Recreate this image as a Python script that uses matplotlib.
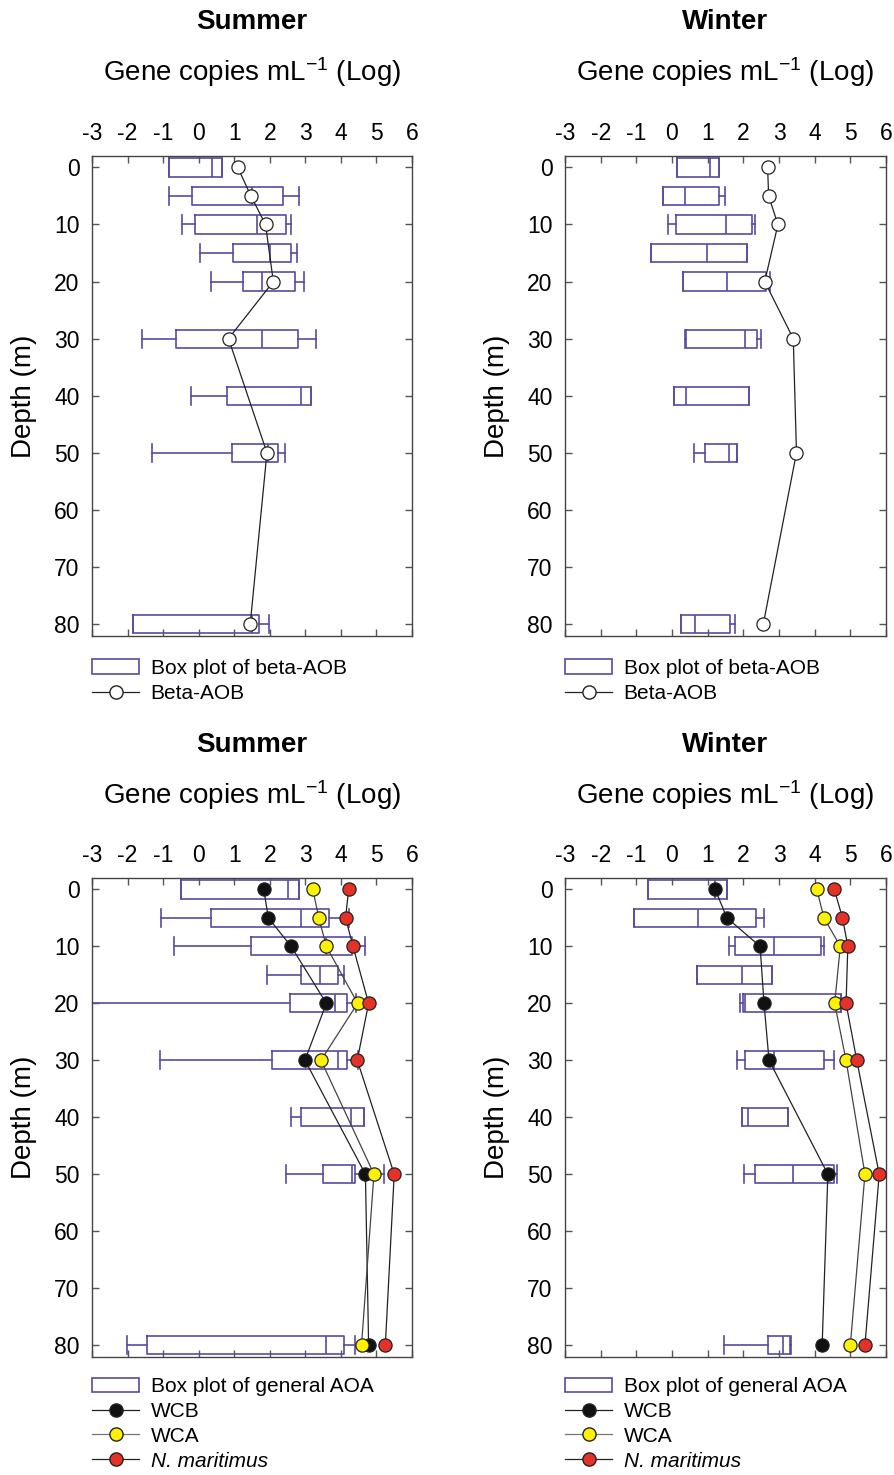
#!/usr/bin/env python3
# coding: utf-8

import matplotlib
matplotlib.use('Agg')
import matplotlib.pyplot as plt
from matplotlib.lines import Line2D
from matplotlib.patches import Rectangle

plt.rcParams['font.family'] = ['Liberation Sans', 'DejaVu Sans']
plt.rcParams['mathtext.default'] = 'regular'

# depths (m)
box_depths = [0, 5, 10, 15, 20, 30, 40, 50, 80]
point_depths = [0, 5, 10, 20, 30, 50, 80]

# Summer, box plot of beta-AOB (log gene copies)
sb_whislo = [-0.83, -0.83, -0.47, 0.04, 0.36, -1.59, -0.21, -1.30, -1.84]
sb_q1 = [-0.83, -0.20, -0.10, 0.97, 1.26, -0.64, 0.79, 0.95, -1.84]
sb_med = [0.37, 1.50, 1.64, 2.02, 1.79, 1.79, 2.87, 1.95, 1.50]
sb_q3 = [0.65, 2.38, 2.46, 2.61, 2.71, 2.79, 3.17, 2.23, 1.69]
sb_whishi = [0.65, 2.83, 2.61, 2.77, 2.97, 3.29, 3.17, 2.42, 1.99]
summer_beta = [1.10, 1.47, 1.88, 2.10, 0.84, 1.92, 1.45]

# Winter, box plot of beta-AOB
wb_whislo = [0.13, -0.24, -0.12, -0.59, 0.30, 0.37, 0.07, 0.63, 0.26]
wb_q1 = [0.13, -0.24, 0.10, -0.59, 0.30, 0.40, 0.07, 0.92, 0.26]
wb_med = [1.06, 0.36, 1.52, 0.98, 1.55, 2.05, 0.40, 1.61, 0.65]
wb_q3 = [1.33, 1.31, 2.24, 2.09, 2.64, 2.38, 2.15, 1.82, 1.62]
wb_whishi = [1.33, 1.50, 2.32, 2.09, 2.74, 2.49, 2.15, 1.82, 1.76]
winter_beta = [2.68, 2.71, 2.97, 2.60, 3.40, 3.49, 2.56]

# Summer, box plot of general AOA
sa_whislo = [-0.51, -1.06, -0.68, 1.93, -2.99, -1.09, 2.60, 2.47, -2.01]
sa_q1 = [-0.51, 0.36, 1.47, 2.88, 2.56, 2.07, 2.88, 3.51, -1.45]
sa_med = [2.52, 2.87, 3.59, 3.42, 3.83, 3.93, 4.29, 4.32, 3.58]
sa_q3 = [2.81, 3.66, 4.32, 3.93, 4.17, 4.17, 4.64, 4.40, 4.10]
sa_whishi = [2.81, 4.24, 4.67, 4.08, 4.43, 4.49, 4.64, 5.20, 4.40]
summer_wcb = [1.83, 1.96, 2.60, 3.59, 2.99, 4.69, 4.78]
summer_wca = [3.21, 3.38, 3.59, 4.47, 3.44, 4.93, 4.58]
summer_nmar = [4.22, 4.13, 4.34, 4.78, 4.46, 5.50, 5.25]

# Winter, box plot of general AOA
wa_whislo = [-0.68, -1.07, 1.61, 0.71, 1.92, 1.83, 1.96, 2.03, 1.47]
wa_q1 = [-0.68, -1.07, 1.78, 0.71, 1.99, 2.04, 1.96, 2.32, 2.68]
wa_med = [1.21, 0.73, 2.85, 1.97, 2.05, 2.85, 2.13, 3.39, 3.11]
wa_q3 = [1.53, 2.35, 4.17, 2.79, 4.75, 4.26, 3.25, 4.53, 3.30]
wa_whishi = [1.53, 2.59, 4.27, 2.79, 4.75, 4.53, 3.25, 4.64, 3.34]
winter_wcb = [1.21, 1.54, 2.47, 2.58, 2.72, 4.37, 4.21]
winter_wca = [4.06, 4.26, 4.72, 4.56, 4.88, 5.41, 5.00]
winter_nmar = [4.55, 4.78, 4.93, 4.88, 5.18, 5.81, 5.41]

x_ticks = [-3, -2, -1, 0, 1, 2, 3, 4, 5, 6]
y_ticks = [0, 10, 20, 30, 40, 50, 60, 70, 80]

BOX_COLOR = '#5a4a9e'
W, H = 895, 1475


def make_stats(whislo, q1, med, q3, whishi):
    stats = []
    for lo, a, m, b, hi in zip(whislo, q1, med, q3, whishi):
        stats.append(dict(whislo=lo, q1=a, med=m, q3=b, whishi=hi, fliers=[]))
    return stats


def add_axes(fig, left, top, right, bottom):
    return fig.add_axes([left / W, 1 - bottom / H, (right - left) / W, (bottom - top) / H])


def style_axes(ax):
    ax.set_xlim(-3, 6)
    ax.set_ylim(82.1, -2.0)
    ax.set_xticks(x_ticks)
    ax.set_xticklabels([str(t) for t in x_ticks])
    ax.set_yticks(y_ticks)
    ax.xaxis.tick_top()
    ax.tick_params(axis='both', which='major', direction='in', length=5, width=1,
                   color='#555555', labelsize=16.5, top=True, bottom=True,
                   left=True, right=True, labeltop=True, labelbottom=False)
    ax.tick_params(axis='x', pad=8)
    ax.tick_params(axis='y', pad=9)
    for sp in ax.spines.values():
        sp.set_color('#444444')
        sp.set_linewidth(1.0)
    ax.set_ylabel('Depth (m)', fontsize=20)
    ax.yaxis.set_label_coords(-0.171, 0.5)


def draw_boxes(ax, stats):
    props = dict(color=BOX_COLOR, linewidth=1.2)
    ax.bxp(stats, positions=box_depths, widths=3.2, capwidths=3.2,
           orientation='horizontal', showfliers=False, manage_ticks=False,
           patch_artist=False, boxprops=props, whiskerprops=props,
           capprops=props, medianprops=props, zorder=2)


def draw_series(ax, values, face, line_color='#222222'):
    ax.plot(values, point_depths, color=line_color, linewidth=0.9, zorder=3)
    ax.plot(values, point_depths, linestyle='none', marker='o', markersize=9.5,
            markerfacecolor=face, markeredgecolor='#222222', markeredgewidth=0.9,
            zorder=4)


def headings(fig, ax, season, y_title, y_sub):
    bb = ax.get_position()
    xc = bb.x0 + bb.width / 2
    fig.text(xc, 1 - y_title / H, season, ha='center', va='center',
             fontsize=20, fontweight='bold')
    fig.text(xc, 1 - y_sub / H, 'Gene copies mL$^{-1}$ (Log)', ha='center',
             va='center', fontsize=20)


def main():
    fig = plt.figure(figsize=(W / 100, H / 100), dpi=100)

    ax_sb = add_axes(fig, 92, 156, 412, 636)
    ax_wb = add_axes(fig, 565, 156, 886, 636)
    ax_sa = add_axes(fig, 92, 878, 412, 1357)
    ax_wa = add_axes(fig, 565, 878, 886, 1357)

    box_handle = Rectangle((0, 0), 1, 1, facecolor='white', edgecolor=BOX_COLOR, linewidth=1.2)

    # beta-AOB panels
    for ax, stats, pts, season in [
            (ax_sb, make_stats(sb_whislo, sb_q1, sb_med, sb_q3, sb_whishi), summer_beta, 'Summer'),
            (ax_wb, make_stats(wb_whislo, wb_q1, wb_med, wb_q3, wb_whishi), winter_beta, 'Winter')]:
        draw_boxes(ax, stats)
        draw_series(ax, pts, 'white')
        style_axes(ax)
        headings(fig, ax, season, 22, 72)
        beta_handle = Line2D([], [], color='#222222', linewidth=0.9, marker='o',
                             markersize=9.5, markerfacecolor='white',
                             markeredgecolor='#222222')
        ax.legend([box_handle, beta_handle], ['Box plot of beta-AOB', 'Beta-AOB'],
                  loc='upper left', bbox_to_anchor=(0.0, -0.048), frameon=False,
                  fontsize=15, borderpad=0, borderaxespad=0, handlelength=2.26,
                  handletextpad=0.55, labelspacing=0.28)

    # general AOA panels
    for ax, stats, wcb, wca, nmar, season in [
            (ax_sa, make_stats(sa_whislo, sa_q1, sa_med, sa_q3, sa_whishi),
             summer_wcb, summer_wca, summer_nmar, 'Summer'),
            (ax_wa, make_stats(wa_whislo, wa_q1, wa_med, wa_q3, wa_whishi),
             winter_wcb, winter_wca, winter_nmar, 'Winter')]:
        draw_boxes(ax, stats)
        draw_series(ax, wcb, '#111111')
        draw_series(ax, wca, '#fff200', line_color='#444444')
        draw_series(ax, nmar, '#e53228')
        style_axes(ax)
        headings(fig, ax, season, 745, 795)
        handles = [box_handle]
        for face, lc in [('#111111', '#222222'), ('#fff200', '#777777'), ('#e53228', '#222222')]:
            handles.append(Line2D([], [], color=lc, linewidth=0.9, marker='o',
                                  markersize=9.5, markerfacecolor=face,
                                  markeredgecolor='#222222'))
        leg = ax.legend(handles, ['Box plot of general AOA', 'WCB', 'WCA', 'N. maritimus'],
                        loc='upper left', bbox_to_anchor=(0.0, -0.042), frameon=False,
                        fontsize=15, borderpad=0, borderaxespad=0, handlelength=2.26,
                        handletextpad=0.55, labelspacing=0.28)
        leg.get_texts()[3].set_style('italic')

    fig.savefig('out.png', dpi=100)


if __name__ == '__main__':
    main()
